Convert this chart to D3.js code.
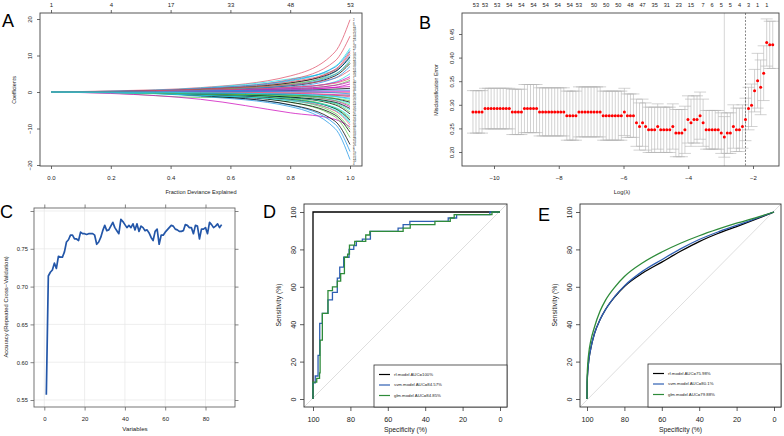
<!DOCTYPE html>
<html>
<head>
<meta charset="utf-8">
<script src="https://cdnjs.cloudflare.com/ajax/libs/d3/7.8.5/d3.min.js"></script>
<style>
body { margin: 0; background: #fff; }
svg { display: block; font-family: "Liberation Sans", Arial, sans-serif; }
</style>
</head>
<body>
<svg id="fig" width="784" height="436"></svg>
<script>
// ---- panel A : lasso coefficient paths ----
var devKnots = [0, 0.2, 0.5, 0.8, 0.95, 1.0];
var coefPaths = [
    [0.0, 0.1, 0.4, 0.8, 1.0], [0.3, 1.2, 4.4, 11.0, 19.8], [-0.3, -1.5, -1.2, -1.0, -0.8],
    [-0.1, -1.2, -4.0, -10.0, -18.5], [0.2, 1.1, 3.6, 6.0, 9.2], [-0.4, -2.0, -5.7, -7.5, -9.5],
    [0.1, 0.5, 1.7, 4.4, 7.8], [0.2, 0.9, 3.4, 8.5, 15.3], [0.0, -0.5, -2.3, -5.8, -10.2],
    [0.0, -0.9, -3.6, -8.8, -16.3], [0.1, 0.8, 3.0, 7.0, 12.0], [0.0, -0.3, -1.0, -2.4, -4.0],
    [-0.1, -1.0, -3.5, -8.0, -14.4], [0.1, 0.9, 2.8, 6.0, 10.5], [0.0, -0.6, -2.8, -6.8, -12.5],
    [0.2, 1.0, 3.2, 6.8, 11.4], [0.0, 0.2, 1.0, 2.8, 5.0], [0.1, 0.4, 0.8, 1.2, 1.5],
    [-0.1, -0.8, -2.8, -6.3, -11.0], [0.1, 0.6, 2.4, 6.2, 11.0], [0.0, 0.2, 0.8, 1.9, 3.2],
    [0.0, 0.5, 2.0, 5.5, 10.0], [-0.1, -0.8, -2.4, -5.0, -8.5], [0.0, 0.3, 0.9, 1.8, 2.8],
    [0.1, 0.7, 2.5, 5.6, 9.6], [0.0, -0.6, -2.2, -5.2, -9.0], [0.0, 0.6, 2.2, 4.9, 8.2],
    [0.1, 0.4, 1.8, 4.8, 8.7], [0.0, -0.4, -1.8, -4.6, -8.1], [0.0, 0.2, 0.6, 1.3, 2.2],
    [-0.1, -0.7, -2.0, -4.5, -7.7], [0.1, 0.8, 2.0, 3.8, 6.0], [0.0, -0.5, -1.8, -4.3, -7.2],
    [0.0, 0.3, 1.4, 3.8, 7.0], [-0.2, -0.9, -2.2, -4.2, -6.7], [0.0, 0.4, 1.2, 2.6, 4.2],
    [0.0, -0.3, -1.5, -3.5, -6.0], [0.1, 0.5, 1.3, 2.4, 3.7], [0.0, -0.4, -1.4, -3.2, -5.5],
    [0.0, 0.3, 0.5, 0.5, 0.5], [-0.1, -0.6, -1.5, -3.0, -4.9], [0.0, 0.1, 0.2, 0.2, 0.2],
    [0.0, -0.5, -1.4, -2.8, -4.5], [0.0, -0.1, -0.1, -0.2, -0.2], [-0.1, -0.4, -1.1, -2.3, -3.6],
    [0.0, 0.2, 0.1, -0.2, -0.5], [0.0, -0.2, -0.9, -2.0, -3.2], [0.0, -0.2, -0.4, -0.7, -0.9],
    [0.0, -0.3, -0.8, -1.8, -2.8], [0.0, -0.1, -0.4, -0.9, -1.3], [-0.1, -0.5, -0.9, -1.7, -2.4],
    [-0.1, -0.3, -0.6, -1.2, -1.7], [0.0, -0.2, -0.6, -1.3, -2.0]
];
var devTicks = [0, 0.2, 0.4, 0.6, 0.8, 1.0];
var dfTop = [1, 4, 17, 33, 48, 53];
var coefTicks = [-20, -10, 0, 10, 20];
var rPalette = ["#000000", "#DF536B", "#61D04F", "#2297E6", "#28E2E5", "#CD0BBC"];

// ---- panel B : cv.glmnet misclassification error ----
var cvMean = [
    0.285, 0.285, 0.285, 0.285,
    0.292, 0.292, 0.292, 0.292, 0.292, 0.292, 0.292, 0.292, 0.292,
    0.285, 0.285, 0.285, 0.285,
    0.292, 0.292, 0.292, 0.292, 0.292,
    0.285, 0.285, 0.285, 0.285, 0.285, 0.285, 0.285, 0.285, 0.285,
    0.277, 0.277, 0.277, 0.277,
    0.285, 0.285, 0.285, 0.285, 0.285, 0.285, 0.285, 0.285,
    0.277, 0.277, 0.277, 0.277, 0.277, 0.277, 0.277,
    0.285, 0.277, 0.277, 0.277,
    0.262, 0.254, 0.262, 0.254, 0.247, 0.247, 0.247, 0.254,
    0.247, 0.247, 0.247, 0.247, 0.254, 0.240, 0.240, 0.240,
    0.247, 0.269, 0.262, 0.269, 0.269, 0.277, 0.262,
    0.247, 0.247, 0.247, 0.247, 0.247, 0.240, 0.232, 0.240, 0.240,
    0.254, 0.247, 0.247, 0.254, 0.269, 0.292, 0.299, 0.330,
    0.351, 0.337, 0.367, 0.432, 0.427, 0.427
];
var cvSd = [
    0.045, 0.045, 0.045, 0.045,
    0.043, 0.043, 0.043, 0.043, 0.043, 0.043, 0.043, 0.043, 0.043,
    0.048, 0.048, 0.048, 0.048,
    0.051, 0.051, 0.051, 0.051, 0.051,
    0.051, 0.051, 0.051, 0.051, 0.051, 0.051, 0.051, 0.051, 0.051,
    0.052, 0.052, 0.052, 0.052,
    0.053, 0.053, 0.053, 0.053, 0.053, 0.053, 0.053, 0.053,
    0.052, 0.052, 0.052, 0.052, 0.052, 0.052, 0.052,
    0.050, 0.046, 0.046, 0.046,
    0.050, 0.050, 0.050, 0.050, 0.048, 0.048, 0.048, 0.048,
    0.048, 0.048, 0.048, 0.048, 0.048, 0.050, 0.050, 0.050,
    0.050, 0.050, 0.050, 0.050, 0.050, 0.050, 0.050,
    0.041, 0.041, 0.041, 0.041, 0.041, 0.043, 0.043, 0.043, 0.043,
    0.046, 0.046, 0.046, 0.046, 0.045, 0.045, 0.045, 0.045,
    0.058, 0.058, 0.058, 0.050, 0.050, 0.050
];
var logLambdaEnds = [-10.65, -1.39];
var nzIdx = [1, 4, 8, 12, 16, 20, 24, 28, 32, 35, 40, 44, 48, 52, 56, 60, 64, 68, 72, 76, 79, 82, 85, 88, 91, 94, 97];
var nzLabels = ["53", "53", "53", "54", "54", "54", "54", "54", "54", "53", "50", "50", "50", "48", "47",
    "35", "31", "23", "15", "7", "6", "5", "5", "4", "3", "1", "1"];
var idxMin = 83, idx1se = 90;
var logLambdaTicks = [-10, -8, -6, -4, -2];
var errTicks = [0.20, 0.25, 0.30, 0.35, 0.40, 0.45];

// ---- panel C : RFE accuracy ----
var accuracy = [
    0.557, 0.714, 0.719, 0.722, 0.731, 0.724, 0.740, 0.739, 0.739, 0.746,
    0.759, 0.762, 0.768, 0.768, 0.763, 0.763, 0.761, 0.772, 0.770, 0.770,
    0.769, 0.770, 0.770, 0.770, 0.768, 0.756, 0.759, 0.765, 0.774, 0.781,
    0.774, 0.775, 0.780, 0.785, 0.778, 0.774, 0.770, 0.789, 0.786, 0.782,
    0.778, 0.781, 0.778, 0.783, 0.775, 0.783, 0.773, 0.780, 0.778, 0.774,
    0.775, 0.771, 0.765, 0.761, 0.773, 0.776, 0.756, 0.768, 0.768, 0.772,
    0.775, 0.778, 0.781, 0.780, 0.776, 0.775, 0.773, 0.773, 0.774, 0.782,
    0.781, 0.778, 0.778, 0.770, 0.781, 0.780, 0.763, 0.776, 0.776, 0.778,
    0.770, 0.785, 0.782, 0.778, 0.780, 0.783, 0.778, 0.782
];
var varTicks = [0, 20, 40, 60, 80];
var accTicks = [0.55, 0.60, 0.65, 0.70, 0.75];

// ---- panel D : ROC, training ----
var rfSpecD = [100, 100, 0];
var rfSensD = [0, 100, 100];
var svmSpecD = [100, 100, 98.8, 97.3, 96.4, 95, 92, 89.6, 87, 85.7, 83.6, 80.7, 78.2, 76.8, 73.6, 69.3, 54.5, 51.8, 48.2, 27.7, 23.2, 5.4, 0];
var svmSensD = [0, 8.6, 12.3, 23.3, 40.4, 45.8, 53, 57, 64.6, 70.5, 75.8, 80, 82, 84.3, 85.5, 89.6, 91.4, 93.2, 95, 96.8, 98.6, 100, 100];
var glmSpecD = [100, 100, 98, 96.5, 96.2, 95, 92, 89.6, 87, 85.2, 83.2, 81.5, 80.5, 77.7, 71.8, 69.6, 51.8, 48, 34.8, 26.6, 24.5, 4.3, 0];
var glmSensD = [0, 9, 11, 14, 31.5, 45.8, 58, 60, 63, 67, 75.8, 77.5, 82.3, 84.3, 87.7, 89.6, 91.4, 93.2, 95, 96.8, 98.6, 100, 100];
var legendD = ["rf.model AUC=100%", "svm.model AUC=84.57%", "glm.model AUC=84.85%"];

// ---- panel E : ROC, smoothed ----
var specE = [100, 99.9, 99.5, 99, 98, 96, 93, 90, 85, 80, 70, 60, 50, 40, 30, 20, 10, 0];
var rfSensE = [0, 9, 16, 21, 27, 35, 42.5, 48, 54.8, 60.2, 67.5, 73.2, 79, 84.2, 88.5, 92.2, 96, 100];
var svmSensE = [0, 9, 16, 21, 27, 35, 42.5, 48, 55, 60.5, 68.5, 74.5, 80.3, 85.3, 89.3, 92.8, 96.4, 100];
var glmSensE = [0, 12, 20, 25, 31, 38.5, 47, 53, 60, 65.5, 73, 78.6, 83.3, 87.3, 90.8, 94, 96.9, 100];
var legendE = ["rf.model AUC=75.98%", "svm.model AUC=80.1%", "glm.model AUC=79.88%"];

var rocTicks = [0, 20, 40, 60, 80, 100];
var modelColors = ["#000000", "#2f5fb3", "#2e8b3a"];

var svg = d3.select("#fig");
svg.append("rect").attr("width", 784).attr("height", 436).attr("fill", "#fff");

function box(g, x0, y0, x1, y1, col) {
    g.append("rect").attr("x", x0).attr("y", y0).attr("width", x1 - x0).attr("height", y1 - y0)
        .attr("fill", "none").attr("stroke", col || "#444").attr("stroke-width", 0.9);
}

function axis(g, gen, tx, ty, fs, col) {
    var a = g.append("g").attr("transform", "translate(" + tx + "," + ty + ")").call(gen);
    a.select(".domain").remove();
    a.selectAll("line").attr("stroke", col || "#444").attr("stroke-width", 0.8);
    a.selectAll("text").attr("font-size", fs).attr("fill", "#222").attr("font-family", null);
    return a;
}

// rotate left-axis labels so they run along the axis (R default las=0)
function rotateLeft(a, off) {
    a.selectAll("text").attr("transform", "rotate(-90)").attr("x", 0).attr("y", -off)
        .attr("dy", 0).attr("text-anchor", "middle");
}

function label(g, txt, x, y, fs, rot, anchor) {
    var t = g.append("text").attr("x", x).attr("y", y).attr("font-size", fs)
        .attr("text-anchor", anchor || "middle").attr("fill", "#222").text(txt);
    if (rot) t.attr("transform", "rotate(-90," + x + "," + y + ")");
    return t;
}

function panelLetter(txt, x, y) {
    svg.append("text").attr("x", x).attr("y", y).attr("font-size", 18).attr("fill", "#000").text(txt);
}

// ================= A =================
(function() {
    var g = svg.append("g");
    var xA = d3.scaleLinear().domain([0, 1]).range([51, 350]);
    var yA = d3.scaleLinear().domain([-20, 20]).range([165, 19]);
    var line = d3.line().x(function(d) { return xA(d[0]); }).y(function(d) { return yA(d[1]); })
        .curve(d3.curveMonotoneX);

    coefPaths.forEach(function(p, i) {
        var pts = [[devKnots[0], 0]].concat(p.map(function(v, j) { return [devKnots[j + 1], v]; }));
        g.append("path").attr("d", line(pts)).attr("fill", "none")
            .attr("stroke", rPalette[i % 6]).attr("stroke-width", 0.75);
    });

    // variable labels at the right end, nudged apart so they stay legible
    var labs = coefPaths.map(function(p, i) { return { id: i + 1, y: yA(p[p.length - 1]) }; })
        .sort(function(a, b) { return a.y - b.y; });
    var gap = 2.75;
    for (var k = 1; k < labs.length; k++) labs[k].y = Math.max(labs[k].y, labs[k - 1].y + gap);
    if (labs[labs.length - 1].y > 164) {
        labs[labs.length - 1].y = 164;
        for (k = labs.length - 2; k >= 0; k--) labs[k].y = Math.min(labs[k].y, labs[k + 1].y - gap);
    }
    g.selectAll("text.vlab").data(labs).enter().append("text")
        .attr("x", 353).attr("y", function(d) { return d.y + 1; })
        .attr("font-size", 2.8).attr("fill", "#333").text(function(d) { return d.id; });

    box(g, 40, 13, 362, 166);
    axis(g, d3.axisBottom(xA).tickValues(devTicks).tickSize(3).tickPadding(6.5).tickFormat(d3.format(".1f")), 0, 166, 6);
    axis(g, d3.axisTop(xA).tickValues(devTicks).tickSize(3).tickPadding(3.5)
        .tickFormat(function(d, i) { return dfTop[i]; }), 0, 13, 6);
    var ay = axis(g, d3.axisLeft(yA).tickValues(coefTicks).tickSize(3), 40, 0, 6);
    rotateLeft(ay, 8);

    label(g, "Coefficients", 16, 90, 5.3, true);
    label(g, "Fraction Deviance Explained", 201, 194, 5.6);
    panelLetter("A", 2, 27);
})();

// ================= B =================
(function() {
    var g = svg.append("g");
    var xB = d3.scaleLinear().domain([-10, -2]).range([494, 753]);
    var yB = d3.scaleLinear().domain([0.2, 0.45]).range([152, 34]);
    var idxToLog = d3.scaleLinear().domain([0, cvMean.length - 1]).range(logLambdaEnds);
    var capW = 0.185;

    var bars = g.append("g").attr("stroke", "#b4b4b4").attr("stroke-width", 0.6);
    cvMean.forEach(function(m, i) {
        var lx = idxToLog(i), hi = m + cvSd[i], lo = m - cvSd[i];
        bars.append("line").attr("x1", xB(lx)).attr("x2", xB(lx)).attr("y1", yB(hi)).attr("y2", yB(lo));
        bars.append("line").attr("x1", xB(lx - capW)).attr("x2", xB(lx + capW)).attr("y1", yB(hi)).attr("y2", yB(hi));
        bars.append("line").attr("x1", xB(lx - capW)).attr("x2", xB(lx + capW)).attr("y1", yB(lo)).attr("y2", yB(lo));
    });

    g.append("line").attr("x1", xB(idxToLog(idxMin))).attr("x2", xB(idxToLog(idxMin)))
        .attr("y1", 13).attr("y2", 166).attr("stroke", "#bbb").attr("stroke-width", 0.6);
    g.append("line").attr("x1", xB(idxToLog(idx1se))).attr("x2", xB(idxToLog(idx1se)))
        .attr("y1", 13).attr("y2", 166).attr("stroke", "#555").attr("stroke-width", 0.7)
        .attr("stroke-dasharray", "2,1.5");

    g.selectAll("circle.cv").data(cvMean).enter().append("circle")
        .attr("cx", function(d, i) { return xB(idxToLog(i)); })
        .attr("cy", function(d) { return yB(d); })
        .attr("r", 1.5).attr("fill", "#ff0000");

    box(g, 462, 13, 779, 166);
    axis(g, d3.axisBottom(xB).tickValues(logLambdaTicks).tickSize(3).tickPadding(6.5), 0, 166, 6);
    var ay = axis(g, d3.axisLeft(yB).tickValues(errTicks).tickSize(3).tickFormat(d3.format(".2f")), 462, 0, 6);
    rotateLeft(ay, 8.5);

    g.selectAll("text.nz").data(nzIdx).enter().append("text")
        .attr("x", function(d) { return xB(idxToLog(d)); }).attr("y", 7)
        .attr("text-anchor", "middle").attr("font-size", 5.6).attr("fill", "#222")
        .text(function(d, i) { return nzLabels[i]; });

    label(g, "Misclassification Error", 438, 90, 5.3, true);
    label(g, "Log(\u03bb)", 622, 194, 5.8);
    panelLetter("B", 419, 29);
})();

// ================= C =================
(function() {
    var g = svg.append("g");
    var xC = d3.scaleLinear().domain([0, 80]).range([44.3, 205.5]);
    var yC = d3.scaleLinear().domain([0.55, 0.80]).range([400, 211]);

    var grid = g.append("g").attr("stroke", "#e6e6e6").attr("stroke-width", 0.7);
    varTicks.forEach(function(v) {
        grid.append("line").attr("x1", xC(v)).attr("x2", xC(v)).attr("y1", 208).attr("y2", 407);
    });
    accTicks.concat([0.80]).forEach(function(v) {
        grid.append("line").attr("x1", 34).attr("x2", 235).attr("y1", yC(v)).attr("y2", yC(v));
    });

    var line = d3.line().x(function(d, i) { return xC(i + 1); }).y(function(d) { return yC(d); });
    g.append("path").attr("d", line(accuracy)).attr("fill", "none")
        .attr("stroke", "#2356a8").attr("stroke-width", 1.7).attr("stroke-linejoin", "round");

    box(g, 34, 208, 235, 407, "#666");
    axis(g, d3.axisBottom(xC).tickValues(varTicks).tickSize(3.5).tickPadding(6), 0, 407, 6, "#666");
    axis(g, d3.axisTop(xC).tickValues(varTicks).tickSize(3.5).tickFormat(""), 0, 208, 6, "#666");
    axis(g, d3.axisLeft(yC).tickValues(accTicks).tickSize(3.5).tickPadding(2.5).tickFormat(d3.format(".2f")), 34, 0, 5.8, "#666");
    axis(g, d3.axisLeft(yC).tickValues([0.80]).tickSize(3.5).tickFormat(""), 34, 0, 5.8, "#666");
    axis(g, d3.axisRight(yC).tickValues(accTicks.concat([0.80])).tickSize(3.5).tickFormat(""), 235, 0, 6, "#666");

    label(g, "Accuracy (Repeated Cross\u2212Validation)", 8, 307, 5.9, true);
    label(g, "Variables", 135, 431, 6.2);
    panelLetter("C", 0, 218);
})();

// ================= D & E =================
function rocPanel(o) {
    var g = svg.append("g");
    var x = d3.scaleLinear().domain([100, 0]).range([o.x100, o.x0]);
    var y = d3.scaleLinear().domain([0, 100]).range([399, 212]);

    g.append("line").attr("x1", o.left).attr("y1", 407).attr("x2", o.right).attr("y2", 204)
        .attr("stroke", "#c8c8c8").attr("stroke-width", 0.6);

    o.curves.forEach(function(c, k) {
        var line = d3.line().x(function(d, i) { return x(c.spec[i]); }).y(function(d) { return y(d); })
            .curve(o.smooth ? d3.curveMonotoneX : d3.curveStepAfter);
        g.append("path").attr("d", line(c.sens)).attr("fill", "none")
            .attr("stroke", modelColors[k]).attr("stroke-width", 1.3);
    });

    box(g, o.left, 204, o.right, 407, "#333");
    axis(g, d3.axisBottom(x).tickValues(rocTicks).tickSize(4).tickPadding(5.5), 0, 407, 7.3, "#333");
    var ay = axis(g, d3.axisLeft(y).tickValues(rocTicks).tickSize(4), o.left, 0, 7.3, "#333");
    rotateLeft(ay, 8);

    var lg = g.append("g");
    lg.append("rect").attr("x", o.legX).attr("y", o.legY).attr("width", o.right - o.legX)
        .attr("height", 407 - o.legY).attr("fill", "#fff").attr("stroke", "#333").attr("stroke-width", 0.8);
    o.legend.forEach(function(t, k) {
        var ly = o.legY + 9.5 + k * 10.5;
        lg.append("line").attr("x1", o.legX + 5).attr("x2", o.legX + 16).attr("y1", ly).attr("y2", ly)
            .attr("stroke", modelColors[k]).attr("stroke-width", 1.2);
        lg.append("text").attr("x", o.legX + 20).attr("y", ly + 1.4).attr("font-size", 4.3)
            .attr("fill", "#222").text(t);
    });

    label(g, "Sensitivity (%)", o.left - 23, 305, 6.8, true);
    label(g, "Specificity (%)", (o.left + o.right) / 2, 432, 6.8);
}

rocPanel({
    left: 304, right: 507, x100: 313, x0: 500, legX: 374, legY: 365, smooth: false,
    curves: [
        { spec: rfSpecD, sens: rfSensD },
        { spec: svmSpecD, sens: svmSensD },
        { spec: glmSpecD, sens: glmSensD }
    ],
    legend: legendD
});
panelLetter("D", 263, 218);

rocPanel({
    left: 580, right: 781, x100: 587, x0: 774, legX: 648, legY: 364, smooth: true,
    curves: [
        { spec: specE, sens: rfSensE },
        { spec: specE, sens: svmSensE },
        { spec: specE, sens: glmSensE }
    ],
    legend: legendE
});
panelLetter("E", 538, 221);
</script>
</body>
</html>
